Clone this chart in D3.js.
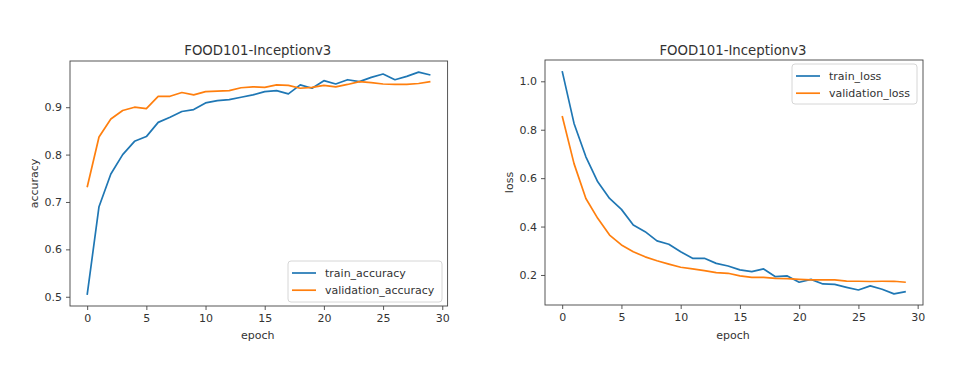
<!DOCTYPE html>
<html><head><meta charset="utf-8">
<script src="https://cdn.jsdelivr.net/npm/d3@7"></script>
<style>body{margin:0;background:#fff}svg{display:block}text{font-family:"DejaVu Sans",sans-serif;fill:#333}</style>
</head><body><svg id="c" width="969" height="373"></svg>
<script>
const epochs = d3.range(0, 30);
const trainAcc = [0.504,0.690,0.759,0.800,0.828,0.838,0.868,0.879,0.891,0.895,0.909,0.914,0.916,0.921,0.926,0.933,0.935,0.928,0.947,0.940,0.956,0.949,0.958,0.954,0.963,0.970,0.958,0.965,0.974,0.968];
const valAcc = [0.731,0.837,0.875,0.893,0.900,0.897,0.923,0.923,0.931,0.926,0.933,0.934,0.935,0.941,0.943,0.942,0.947,0.946,0.940,0.942,0.946,0.943,0.948,0.954,0.952,0.949,0.948,0.948,0.950,0.954];
const trainLoss = [1.042,0.826,0.688,0.585,0.516,0.471,0.406,0.379,0.341,0.327,0.296,0.269,0.269,0.248,0.237,0.221,0.214,0.225,0.193,0.196,0.170,0.182,0.163,0.161,0.149,0.138,0.155,0.141,0.122,0.131];
const valLoss = [0.857,0.660,0.516,0.434,0.365,0.324,0.296,0.275,0.259,0.245,0.232,0.225,0.218,0.210,0.207,0.196,0.190,0.190,0.186,0.185,0.182,0.180,0.180,0.180,0.175,0.174,0.173,0.174,0.174,0.170];
const xTicks = [0,5,10,15,20,25,30];
const accTicks = [0.5,0.6,0.7,0.8,0.9];
const lossTicks = [0.2,0.4,0.6,0.8,1.0];
const title = "FOOD101-Inceptionv3";
const colors = ["#1f77b4", "#ff7f0e"];

const svg = d3.select("#c");
svg.append("rect").attr("width",969).attr("height",373).attr("fill","#fff");

function panel(cfg) {
  const [x0, x1] = cfg.xr, [yb, yt] = cfg.yr;
  const all = cfg.series.flat();
  const mn = d3.min(all), mx = d3.max(all), pad = (mx - mn) * 0.05;
  const x = d3.scaleLinear().domain([-1.45, 30.45]).range([x0, x1]);
  const y = d3.scaleLinear().domain([mn - pad, mx + pad]).range([yb, yt]);
  const g = svg.append("g");
  const line = d3.line().x((d,i)=>x(epochs[i])).y(d=>y(d));
  cfg.series.forEach((s,i)=>{
    g.append("path").datum(s).attr("d", line).attr("fill","none")
      .attr("stroke", colors[i]).attr("stroke-width",1.7).attr("stroke-linejoin","round");
  });
  const xa = g.append("g").attr("transform",`translate(0,${yb})`)
    .call(d3.axisBottom(x).tickValues(xTicks).tickFormat(d3.format("d")).tickSize(4).tickPadding(4));
  const ya = g.append("g").attr("transform",`translate(${x0},0)`)
    .call(d3.axisLeft(y).tickValues(cfg.yTicks).tickFormat(d3.format(".1f")).tickSize(4).tickPadding(4));
  [xa, ya].forEach(a=>{
    a.select(".domain").remove();
    a.selectAll("line").attr("stroke","#444").attr("stroke-width",0.9);
    a.selectAll("text").attr("font-size",11).attr("fill","#333");
  });
  g.append("rect").attr("x",x0).attr("y",yt).attr("width",x1-x0).attr("height",yb-yt)
    .attr("fill","none").attr("stroke","#444").attr("stroke-width",0.9);
  g.append("text").attr("x",(x0+x1)/2 - 1).attr("y",55).attr("text-anchor","middle")
    .attr("font-size",13.3).text(title);
  g.append("text").attr("x",(x0+x1)/2 - 1).attr("y",339).attr("text-anchor","middle")
    .attr("font-size",11).text("epoch");
  g.append("text").attr("transform",`translate(${cfg.ylx},${(yb+yt)/2}) rotate(-90)`)
    .attr("text-anchor","middle").attr("font-size",11).text(cfg.ylabel);
  const L = cfg.legend;
  g.append("rect").attr("x",L.x).attr("y",L.y).attr("width",L.w).attr("height",L.h)
    .attr("rx",3).attr("fill","#fff").attr("fill-opacity",0.8).attr("stroke","#d6d6d6");
  cfg.names.forEach((n,i)=>{
    const yy = L.y + 12 + i*17.2;
    g.append("line").attr("x1",L.x+4).attr("x2",L.x+28).attr("y1",yy).attr("y2",yy)
      .attr("stroke",colors[i]).attr("stroke-width",1.7);
    g.append("text").attr("x",L.x+37).attr("y",yy+4).attr("font-size",11).text(n);
  });
}

panel({xr:[70,447.6], yr:[306,61], series:[trainAcc,valAcc], yTicks:accTicks,
  ylabel:"accuracy", ylx:38, names:["train_accuracy","validation_accuracy"],
  legend:{x:288,y:261,w:154,h:41}});
panel({xr:[545,923], yr:[305,60], series:[trainLoss,valLoss], yTicks:lossTicks,
  ylabel:"loss", ylx:513, names:["train_loss","validation_loss"],
  legend:{x:792,y:64,w:125,h:40}});
</script></body></html>
